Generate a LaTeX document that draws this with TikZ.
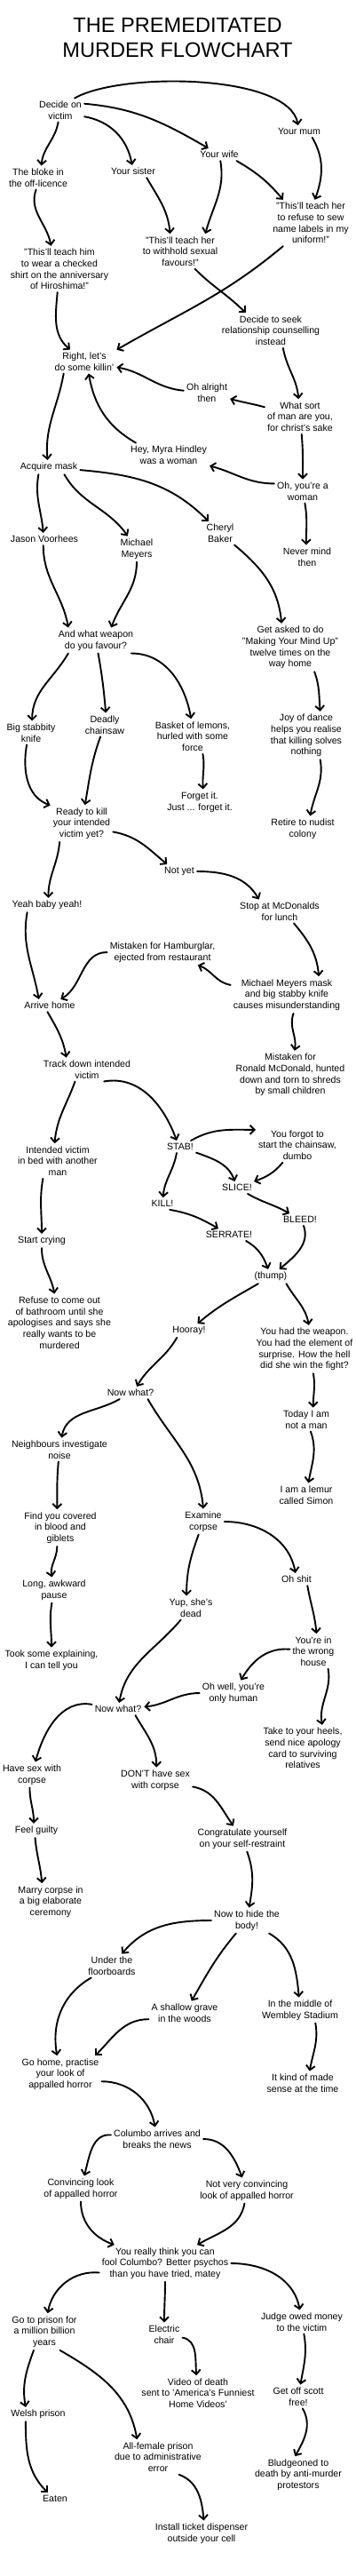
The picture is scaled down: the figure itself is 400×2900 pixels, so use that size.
\documentclass[tikz,border=0pt]{standalone}
\usepackage{fontspec}
\setmainfont{Liberation Sans}
\usetikzlibrary{arrows.meta}
\begin{document}
\begin{tikzpicture}[x=1pt,y=1pt,
  lbl/.style={align=center,inner sep=3pt,font=\fontsize{10.6}{12.7}\selectfont},
  ar/.style={line width=1.9pt,line cap=round,line join=round,-{Straight Barb[length=5pt,width=10pt]}}]
\fill[white] (0,0) rectangle (400,-2900);
\useasboundingbox (0,0) rectangle (400,-2900);
\node[align=center,inner sep=0pt,font=\fontsize{23.6}{28.5}\selectfont] (title) at (200,-42.5) {THE PREMEDITATED\\MURDER FLOWCHART};
\node[lbl] (decide) at (68,-124) {Decide on\\victim};
\node[lbl] (mum) at (337,-148) {Your mum};
\node[lbl] (wife) at (247,-174) {Your wife};
\node[lbl] (bloke) at (43,-200) {The bloke in\\the off-licence};
\node[lbl] (sister) at (150,-193) {Your sister};
\node[lbl] (sew) at (350,-251) {"This'll teach her\\to refuse to sew\\name labels in my\\uniform!"};
\node[lbl] (withhold) at (203,-283) {"This'll teach her\\to withhold sexual\\favours!"};
\node[lbl] (hiro) at (67,-303) {"This'll teach him\\to wear a checked\\shirt on the anniversary\\of Hiroshima!"};
\node[lbl] (counsel) at (305,-372) {Decide to seek\\relationship counselling\\instead};
\node[lbl] (right) at (95,-407) {Right, let's\\do some killin'};
\node[lbl] (alright) at (233,-442) {Oh alright\\then};
\node[lbl] (whatsort) at (338,-469) {What sort\\of man are you,\\for christ's sake};
\node[lbl] (myra) at (190,-512) {Hey, Myra Hindley\\was a woman};
\node[lbl] (acquire) at (55,-526) {Acquire mask};
\node[lbl] (woman) at (341,-553) {Oh, you're a\\woman};
\node[lbl] (cheryl) at (248,-600) {Cheryl\\Baker};
\node[lbl] (jason) at (50,-607) {Jason Voorhees};
\node[lbl] (michael) at (154,-618) {Michael\\Meyers};
\node[lbl] (nevermind) at (346,-627) {Never mind\\then};
\node[lbl] (weapon) at (108,-721) {And what weapon\\do you favour?};
\node[lbl] (asked) at (327,-729) {Get asked to do\\"Making Your Mind Up"\\twelve times on the\\way home};
\node[lbl] (knife) at (35,-825) {Big stabbity\\knife};
\node[lbl] (chainsaw) at (118,-816) {Deadly\\chainsaw};
\node[lbl] (basket) at (217,-829) {Basket of lemons,\\hurled with some\\force};
\node[lbl] (joy) at (345,-828) {Joy of dance\\helps you realise\\that killing solves\\nothing};
\node[lbl] (forget) at (225,-903) {Forget it.\\Just ... forget it.};
\node[lbl] (ready) at (92,-927) {Ready to kill\\your intended\\victim yet?};
\node[lbl] (retire) at (341,-933) {Retire to nudist\\colony};
\node[lbl] (notyet) at (202,-981) {Not yet};
\node[lbl] (yeah) at (53,-1019) {Yeah baby yeah!};
\node[lbl] (stop) at (315,-1026) {Stop at McDonalds\\for lunch};
\node[lbl] (hamb) at (183,-1072) {Mistaken for Hamburglar,\\ejected from restaurant};
\node[lbl] (mmmask) at (323,-1120) {Michael Meyers mask\\and big stabby knife\\causes misunderstanding};
\node[lbl] (arrive) at (56,-1132) {Arrive home};
\node[lbl] (track) at (98,-1204) {Track down intended\\victim};
\node[lbl] (ronald) at (327,-1210) {Mistaken for\\Ronald McDonald, hunted\\down and torn to shreds\\by small children};
\node[lbl] (stab) at (203,-1291) {STAB!};
\node[lbl] (forgot) at (335,-1289) {You forgot to\\start the chainsaw,\\dumbo};
\node[lbl] (bed) at (65,-1307) {Intended victim\\in bed with another\\man};
\node[lbl] (slice) at (267,-1337) {SLICE!};
\node[lbl] (kill) at (183,-1355) {KILL!};
\node[lbl] (bleed) at (338,-1373) {BLEED!};
\node[lbl] (serrate) at (258,-1390) {SERRATE!};
\node[lbl] (crying) at (47,-1397) {Start crying};
\node[lbl] (thump) at (305,-1437) {(thump)};
\node[lbl] (bathroom) at (67,-1489) {Refuse to come out\\of bathroom until she\\apologises and says she\\really wants to be\\murdered};
\node[lbl] (hooray) at (213,-1498) {Hooray!};
\node[lbl] (hadweapon) at (343,-1519) {You had the weapon.\\You had the element of\\surprise. How the hell\\did she win the fight?};
\node[lbl] (nowwhat) at (147,-1568) {Now what?};
\node[lbl] (today) at (345,-1598) {Today I am\\not a man};
\node[lbl] (neighbours) at (67,-1632) {Neighbours investigate\\noise};
\node[lbl] (lemur) at (345,-1683) {I am a lemur\\called Simon};
\node[lbl] (find) at (68,-1720) {Find you covered\\in blood and\\giblets};
\node[lbl] (examine) at (229,-1713) {Examine\\corpse};
\node[lbl] (ohshit) at (334,-1778) {Oh shit};
\node[lbl] (pause) at (61,-1790) {Long, awkward\\pause};
\node[lbl] (yup) at (215,-1810) {Yup, she's\\dead};
\node[lbl] (wrong) at (353,-1859) {You're in\\the wrong\\house};
\node[lbl] (took) at (58,-1869) {Took some explaining,\\I can tell you};
\node[lbl] (ohwell) at (263,-1906) {Oh well, you're\\only human};
\node[lbl] (nowwhat2) at (133,-1924) {Now what?};
\node[lbl] (heels) at (341,-1968) {Take to your heels,\\send nice apology\\card to surviving\\relatives};
\node[lbl] (sex) at (36,-1998) {Have sex with\\corpse};
\node[lbl] (dont) at (175,-2004) {DON'T have sex\\with corpse};
\node[lbl] (guilty) at (41,-2061) {Feel guilty};
\node[lbl] (congrat) at (273,-2070) {Congratulate yourself\\on your self-restraint};
\node[lbl] (marry) at (57,-2141) {Marry corpse in\\a big elaborate\\ceremony};
\node[lbl] (hide) at (278,-2162) {Now to hide the\\body!};
\node[lbl] (floor) at (126,-2213) {Under the\\floorboards};
\node[lbl] (grave) at (208,-2266) {A shallow grave\\in the woods};
\node[lbl] (wembley) at (338,-2263) {In the middle of\\Wembley Stadium};
\node[lbl] (gohome) at (68,-2335) {Go home, practise\\your look of\\appalled horror};
\node[lbl] (sense) at (341,-2345) {It kind of made\\sense at the time};
\node[lbl] (columbo) at (177,-2408) {Columbo arrives and\\breaks the news};
\node[lbl] (convincing) at (91,-2464) {Convincing look\\of appalled horror};
\node[lbl] (notvery) at (278,-2466) {Not very convincing\\look of appalled horror};
\node[lbl] (fool) at (186,-2548) {You really think you can\\fool Columbo? Better psychos\\than you have tried, matey};
\node[lbl] (judge) at (340,-2614) {Judge owed money\\to the victim};
\node[lbl] (prison) at (50,-2625) {Go to prison for\\a million billion\\years};
\node[lbl] (electric) at (185,-2628) {Electric\\chair};
\node[lbl] (video) at (223,-2694) {Video of death\\sent to 'America's Funniest\\Home Videos'};
\node[lbl] (scott) at (336,-2698) {Get off scott\\free!};
\node[lbl] (welsh) at (43,-2718) {Welsh prison};
\node[lbl] (female) at (178,-2766) {All-female prison\\due to administrative\\error};
\node[lbl] (bludgeon) at (336,-2786) {Bludgeoned to\\death by anti-murder\\protestors};
\node[lbl] (eaten) at (62,-2813) {Eaten};
\node[lbl] (ticket) at (227,-2852) {Install ticket dispenser\\outside your cell};
% connectors
\draw[ar] (decide.40) to[out=30,in=100,looseness=0.6] (mum.100);
\draw[ar] (decide.15) to[out=-5,in=150] (wife.150);
\draw[ar] (decide.-15) to[out=-10,in=100] (sister.100);
\draw[ar] (decide.-100) to[out=-100,in=85] (bloke.75);
\draw[ar] (wife.-20) to[out=-30,in=130] (sew.140);
\draw[ar] (mum.-25) to[out=-60,in=70] (sew.80);
\draw[ar] (sister.-25) to[out=-60,in=95] (withhold.120);
\draw[ar] (wife.-80) to[out=-80,in=75] (withhold.35);
\draw[ar] (bloke.-100) to[out=-110,in=100] (hiro.110);
\draw[ar] (withhold.-50) to[out=-45,in=135] (counsel.145);
\draw[ar] (sew.-140) to[out=-140,in=30] (right.20);
\draw[ar] (hiro.-95) to[out=-95,in=140] (right.140);
\draw[ar] (counsel.-55) to[out=-80,in=95] (whatsort.95);
\draw[ar] (whatsort.165) to[out=165,in=-15] (alright.-15);
\draw[ar] (alright.175) to[out=175,in=-10] (right.-10);
\draw[ar] (whatsort.-85) to[out=-85,in=90] (woman.90);
\draw[ar] (woman.165) to[out=180,in=-15] (myra.-15);
\draw[ar] (myra.160) to[out=150,in=-80] (right.-70);
\draw[ar] (right.-150) to[out=-100,in=95] (acquire.100);
\draw[ar] (acquire.-145) to[out=-100,in=95] (jason.100);
\draw[ar] (acquire.-25) to[out=-60,in=125] (michael.125);
\draw[ar] (acquire.-5) to[out=-5,in=135] (cheryl.135);
\draw[ar] (woman.-80) to[out=-80,in=90] (nevermind.95);
\draw[ar] (cheryl.-40) to[out=-40,in=95] (asked.110);
\draw[ar] (jason.-100) to[out=-90,in=100] (weapon.155);
\draw[ar] (michael.-90) to[out=-90,in=70] (weapon.40);
\draw[ar] (weapon.-155) to[out=-120,in=90] (knife.85);
\draw[ar] (weapon.-80) to[out=-80,in=95] (chainsaw.85);
\draw[ar] (weapon.-20) to[out=0,in=100] (basket.95);
\draw[ar] (asked.-45) to[out=-70,in=95] (joy.60);
\draw[ar] (basket.-60) to[out=-80,in=95] (forget.75);
\draw[ar] (joy.-60) to[out=-80,in=80] (retire.60);
\draw[ar] (knife.-110) to[out=-100,in=160] (ready.150);
\draw[ar] (chainsaw.-110) to[out=-110,in=80] (ready.80);
\draw[ar] (ready.-140) to[out=-95,in=90] (yeah.80);
\draw[ar] (ready.-15) to[out=-10,in=140] (notyet.150);
\draw[ar] (notyet.0) to[out=0,in=120] (stop.150);
\draw[ar] (yeah.-160) to[out=-100,in=100] (arrive.150);
\draw[ar] (stop.-40) to[out=-50,in=95] (mmmask.30);
\draw[ar] (mmmask.170) to[out=170,in=-20] (hamb.-20);
\draw[ar] (hamb.180) to[out=180,in=30] (arrive.30);
\draw[ar] (mmmask.-70) to[out=-110,in=80] (ronald.80);
\draw[ar] (arrive.-110) to[out=-60,in=100] (track.150);
\draw[ar] (track.-135) to[out=-110,in=85] (bed.100);
\draw[ar] (track.-35) to[out=10,in=110] (stab.120);
\draw[ar] (stab.30) to[out=30,in=180] (forgot.160);
\draw[ar] (stab.-20) to[out=-20,in=110] (slice.110);
\draw[ar] (stab.-120) to[out=-100,in=85] (kill.85);
\draw[ar] (forgot.-130) to[out=-130,in=20] (slice.20);
\draw[ar] (slice.-30) to[out=-30,in=150] (bleed.150);
\draw[ar] (kill.-40) to[out=-10,in=150] (serrate.150);
\draw[ar] (bed.-130) to[out=-100,in=90] (crying.90);
\draw[ar] (serrate.-20) to[out=-30,in=110] (thump.110);
\draw[ar] (bleed.-60) to[out=-70,in=40] (thump.40);
\draw[ar] (crying.-90) to[out=-90,in=100] (bathroom.100);
\draw[ar] (thump.-150) to[out=-150,in=40] (hooray.40);
\draw[ar] (thump.-25) to[out=-60,in=100] (hadweapon.80);
\draw[ar] (hooray.-150) to[out=-120,in=60] (nowwhat.45);
\draw[ar] (hadweapon.-70) to[out=-80,in=90] (today.60);
\draw[ar] (nowwhat.-150) to[out=-150,in=80] (neighbours.80);
\draw[ar] (nowwhat.-20) to[out=-60,in=95] (examine.90);
\draw[ar] (today.-70) to[out=-70,in=80] (lemur.80);
\draw[ar] (neighbours.-95) to[out=-95,in=90] (find.100);
\draw[ar] (examine.0) to[out=0,in=100] (ohshit.100);
\draw[ar] (examine.-110) to[out=-110,in=90] (yup.110);
\draw[ar] (find.-100) to[out=-90,in=100] (pause.100);
\draw[ar] (pause.-100) to[out=-100,in=90] (took.90);
\draw[ar] (ohshit.-30) to[out=-80,in=95] (wrong.80);
\draw[ar] (yup.-130) to[out=-130,in=80] (nowwhat2.80);
\draw[ar] (wrong.175) to[out=175,in=60] (ohwell.60);
\draw[ar] (ohwell.180) to[out=180,in=5] (nowwhat2.5);
\draw[ar] (wrong.-50) to[out=-80,in=100] (heels.50);
\draw[ar] (nowwhat2.170) to[out=170,in=75] (sex.75);
\draw[ar] (nowwhat2.-20) to[out=-60,in=90] (dont.85);
\draw[ar] (dont.-10) to[out=-10,in=125] (congrat.125);
\draw[ar] (sex.-100) to[out=-90,in=90] (guilty.110);
\draw[ar] (guilty.-100) to[out=-85,in=95] (marry.115);
\draw[ar] (congrat.-70) to[out=-70,in=80] (hide.80);
\draw[ar] (hide.180) to[out=180,in=50] (floor.50);
\draw[ar] (hide.-130) to[out=-130,in=60] (grave.60);
\draw[ar] (hide.-30) to[out=-30,in=95] (wembley.95);
\draw[ar] (floor.-150) to[out=-150,in=100] (gohome.100);
\draw[ar] (grave.190) to[out=180,in=45] (gohome.28);
\draw[ar] (wembley.-40) to[out=-80,in=80] (sense.60);
\draw[ar] (gohome.-10) to[out=0,in=100] (columbo.100);
\draw[ar] (columbo.175) to[out=175,in=75] (convincing.75);
\draw[ar] (columbo.0) to[out=0,in=110] (notvery.110);
\draw[ar] (convincing.-90) to[out=-90,in=160] (fool.160);
\draw[ar] (notvery.-100) to[out=-100,in=30] (fool.30);
\draw[ar] (fool.188) to[out=175,in=80] (prison.80);
\draw[ar] (fool.-90) to[out=-90,in=90] (electric.90);
\draw[ar] (fool.0) to[out=0,in=100] (judge.100);
\draw[ar] (prison.-120) to[out=-110,in=100] (welsh.150);
\draw[ar] (prison.-50) to[out=-30,in=100] (female.140);
\draw[ar] (electric.-10) to[out=-10,in=95] (video.95);
\draw[ar] (judge.-80) to[out=-80,in=80] (scott.80);
\draw[ar] (welsh.-150) to[out=-90,in=135] (eaten.140);
\draw[ar] (scott.-70) to[out=-60,in=60] (bludgeon.100);
\draw[ar] (female.-40) to[out=-20,in=95] (ticket.80);
\end{tikzpicture}
\end{document}
